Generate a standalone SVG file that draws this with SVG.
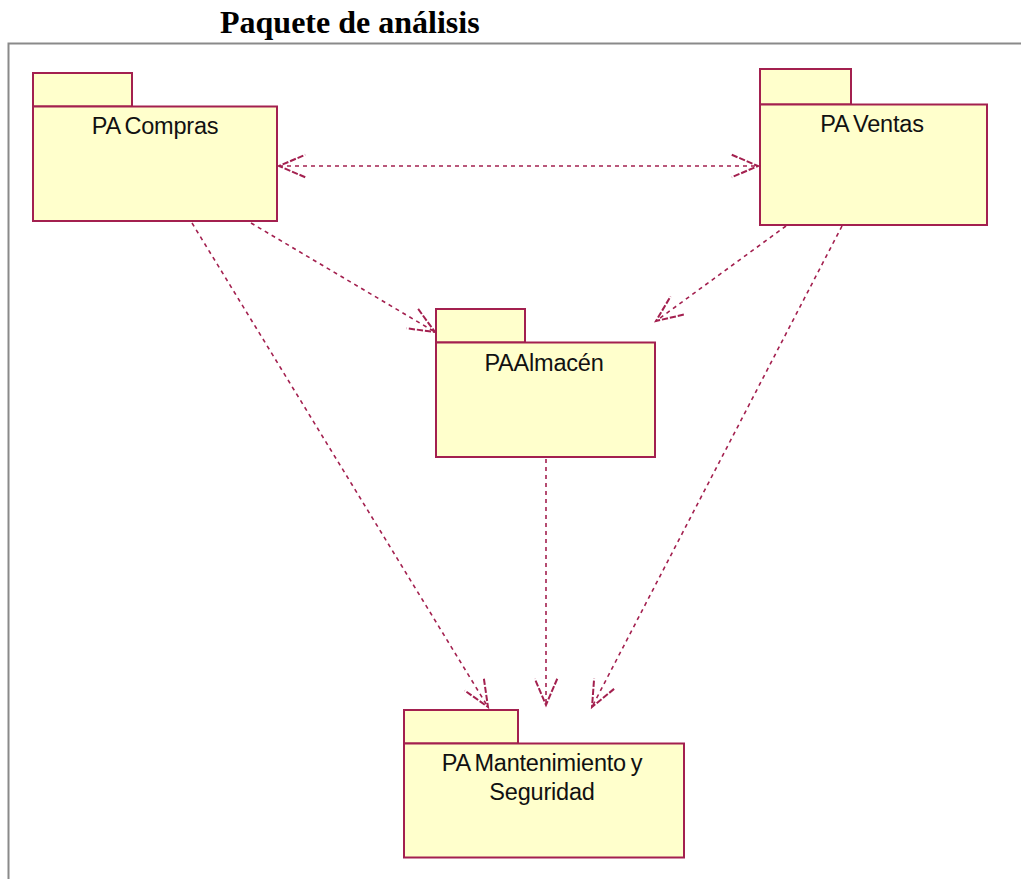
<svg xmlns="http://www.w3.org/2000/svg" width="1021" height="879" viewBox="0 0 1021 879">
  <style>
    .title { font-family: "Liberation Serif", "Times New Roman", serif; font-weight: bold; font-size: 32px; fill: #000; }
    .pkg { fill: #FFFFCC; stroke: #A3204F; stroke-width: 2; }
    .lbl { font-family: "Liberation Sans", Arial, sans-serif; font-size: 23.5px; fill: #111; text-anchor: middle; letter-spacing: -0.2px; word-spacing: -1.5px; }
    .dep { fill: none; stroke: #A3204F; stroke-width: 1.6; stroke-dasharray: 4 4; }
    .frame { fill: none; stroke: #8a8a8a; stroke-width: 2; }
  </style>
  <defs>
    <!-- open dependency arrowhead -->
    <marker id="open" markerUnits="userSpaceOnUse" markerWidth="30" markerHeight="30" refX="0" refY="0" viewBox="-22 -12 24 24" orient="auto-start-reverse" overflow="visible">
      <path d="M -21 -9 L 0 0 L -21 9" fill="none" stroke="#A3204F" stroke-width="1.6" stroke-dasharray="5 1.5"/>
    </marker>
  </defs>

  <rect width="1021" height="879" fill="#ffffff"/>

  <text class="title" x="220" y="33">Paquete de análisis</text>
  <path class="frame" d="M 8.5 879 L 8.5 43.5 L 1021 43.5"/>

  <g id="pa-compras">
    <rect class="pkg" x="33" y="73" width="99" height="33.5"/>
    <rect class="pkg" x="33" y="106.5" width="244" height="114.5"/>
    <text class="lbl" x="155" y="134">PA Compras</text>
  </g>

  <g id="pa-ventas">
    <rect class="pkg" x="760" y="69" width="91" height="35.5"/>
    <rect class="pkg" x="760" y="104.5" width="227" height="120.5"/>
    <text class="lbl" x="872" y="132">PA Ventas</text>
  </g>

  <g id="pa-almacen">
    <rect class="pkg" x="436" y="309" width="89" height="33.5"/>
    <rect class="pkg" x="436" y="342.5" width="219" height="114.5"/>
    <text class="lbl" x="544" y="371">PAAlmacén</text>
  </g>

  <g id="pa-mantenimiento">
    <rect class="pkg" x="404" y="710" width="114" height="33.5"/>
    <rect class="pkg" x="404" y="743.5" width="280" height="114"/>
    <text class="lbl" x="542" y="771">PA Mantenimiento y</text>
    <text class="lbl" x="542" y="800">Seguridad</text>
  </g>

  <g id="connectors">
    <line class="dep" x1="279" y1="166" x2="758" y2="166" marker-start="url(#open)" marker-end="url(#open)"/>
    <line class="dep" x1="251" y1="223" x2="435" y2="332" marker-end="url(#open)"/>
    <line class="dep" x1="786" y1="226" x2="656" y2="321" marker-end="url(#open)"/>
    <line class="dep" x1="192" y1="223" x2="488" y2="707" marker-end="url(#open)"/>
    <line class="dep" x1="546" y1="459" x2="546" y2="705" marker-end="url(#open)"/>
    <line class="dep" x1="842" y1="226" x2="592" y2="707" marker-end="url(#open)"/>
  </g>
</svg>
